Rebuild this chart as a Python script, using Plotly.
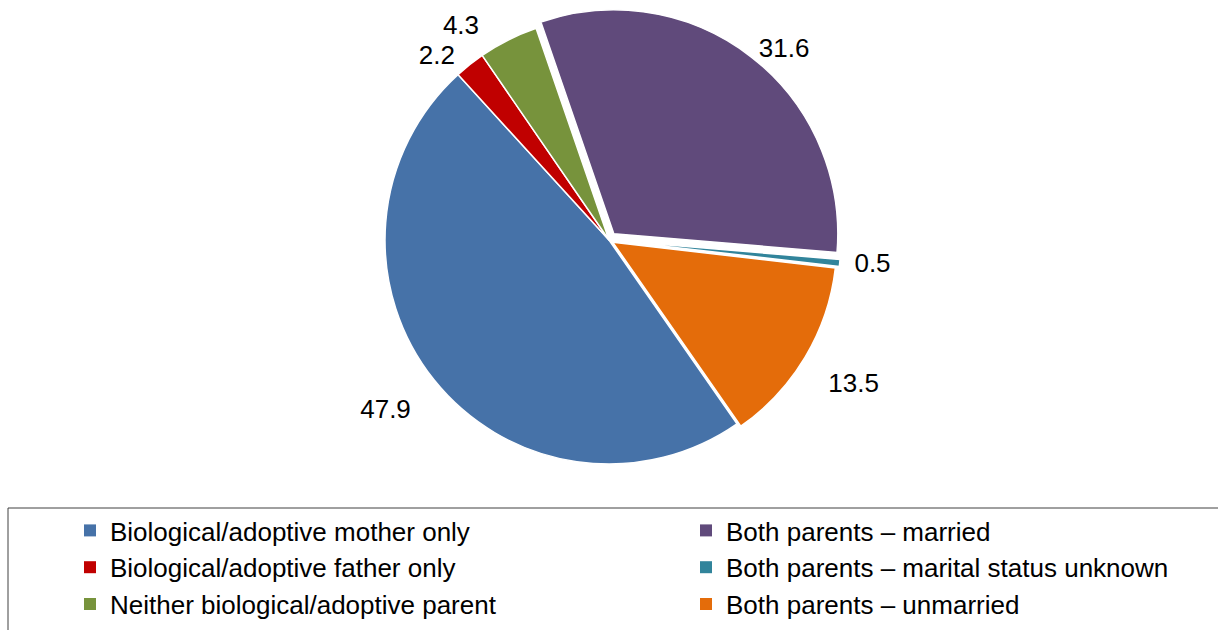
import plotly.graph_objects as go

# Pie slices, clockwise from the top
slice_labels = [
    "Both parents \u2013 married",
    "Both parents \u2013 marital status unknown",
    "Both parents \u2013 unmarried",
    "Biological/adoptive mother only",
    "Biological/adoptive father only",
    "Neither biological/adoptive parent",
]
slice_values = [31.6, 0.5, 13.5, 47.9, 2.2, 4.3]
slice_colors = ["#604A7B", "#31849B", "#E46C0A", "#4672A8", "#C00000", "#77933C"]
slice_pull = [0.035, 0.035, 0.02, 0.0, 0.0, 0.0]

# Label templates (non-breaking spaces / blank line nudge each label away from the pie)
NB = "\u00a0"
label_templates = [
    "%{value:.1f}",
    NB + "%{value:.1f}",
    NB + "<br>" + NB + "%{value:.1f}",
    NB + "<br>%{value:.1f}" + NB,
    "%{value:.1f}" + NB,
    "%{value:.1f}" + NB * 3,
]

# Legend columns
legend_left = [
    "Biological/adoptive mother only",
    "Biological/adoptive father only",
    "Neither biological/adoptive parent",
]
legend_right = [
    "Both parents \u2013 married",
    "Both parents \u2013 marital status unknown",
    "Both parents \u2013 unmarried",
]

W, H = 1218, 630
FONT = "Liberation Sans, Arial, sans-serif"

fig = go.Figure()
fig.add_trace(go.Pie(
    labels=slice_labels,
    values=slice_values,
    sort=False,
    direction="clockwise",
    rotation=-19,
    pull=slice_pull,
    marker=dict(colors=slice_colors, line=dict(color="white", width=1.5)),
    texttemplate=label_templates,
    textposition="outside",
    textfont=dict(family=FONT, size=26, color="black"),
    showlegend=False,
    domain=dict(x=[0.1, 0.9], y=[0.251, 0.987]),
    hoverinfo="label+value",
))

color_map = dict(zip(slice_labels, slice_colors))
for legend_id, names in (("legend", legend_left), ("legend2", legend_right)):
    for name in names:
        fig.add_trace(go.Scatter(
            x=[None], y=[None], mode="markers", name=name,
            marker=dict(symbol="square", size=12, color=color_map[name]),
            showlegend=True, legend=legend_id, legendgroup=name,
        ))

legend_common = dict(
    orientation="v",
    yanchor="top", y=1 - 507 / H,
    xanchor="left",
    font=dict(family=FONT, size=26, color="black"),
    bgcolor="rgba(0,0,0,0)",
    borderwidth=0,
    traceorder="grouped",
    tracegroupgap=0,
)

fig.update_layout(
    width=W, height=H,
    margin=dict(l=0, r=0, t=0, b=0, autoexpand=False),
    paper_bgcolor="white", plot_bgcolor="white",
    font=dict(family=FONT, size=26, color="black"),
    xaxis=dict(visible=False), yaxis=dict(visible=False),
    legend=dict(x=(95 - 25) / W, **legend_common),
    legend2=dict(x=(711 - 25) / W, **legend_common),
    shapes=[dict(
        type="rect", xref="paper", yref="paper",
        x0=8 / W, x1=1.01, y0=-0.01, y1=1 - 508 / H,
        line=dict(color="#404040", width=1), fillcolor="rgba(0,0,0,0)",
    )],
)

post = (
    "document.body.style.margin='0';"
    "var s=document.createElement('style');"
    "s.textContent='path.textline{display:none}';"
    "document.head.appendChild(s);"
)

fig.write_html(
    "out.html",
    config={"displayModeBar": False},
    post_script=post,
)
